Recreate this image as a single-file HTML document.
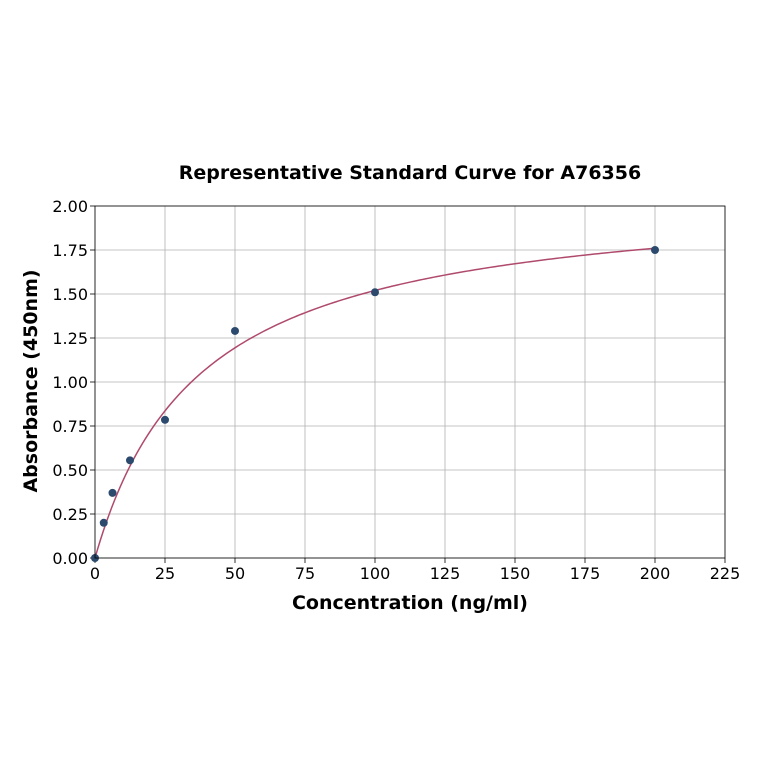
<!DOCTYPE html>
<html><head><meta charset="utf-8"><style>
html,body{margin:0;padding:0;background:#fff;}
svg{display:block;font-family:"DejaVu Sans","Liberation Sans",sans-serif;}
</style></head><body>
<svg id="chart" width="764" height="764"></svg>
<script>
const xTicks=[0,25,50,75,100,125,150,175,200,225];
const yTicks=[0,0.25,0.5,0.75,1.0,1.25,1.5,1.75,2.0];
const concentrations=[0,3.125,6.25,12.5,25,50,100,200];
const absorbances=[0,0.2,0.37,0.555,0.785,1.29,1.51,1.75];
const fitVmax=2.09;
const fitK=37.5;

const L=95,R=725,T=206,B=558;
const sx=v=>L+(v-0)/(225-0)*(R-L);
const sy=v=>B-(v-0)/(2-0)*(B-T);
const NS="http://www.w3.org/2000/svg";
const svg=document.getElementById('chart');
function mk(tag,attrs,parent){const e=document.createElementNS(NS,tag);for(const k in attrs)e.setAttribute(k,attrs[k]);(parent||svg).appendChild(e);return e;}

const grid=mk('g',{});


xTicks.forEach(t=>{mk('line',{x1:sx(t),x2:sx(t),y1:T,y2:B,stroke:'#b0b0b0','stroke-width':0.8},grid);});
yTicks.forEach(t=>{mk('line',{x1:L,x2:R,y1:sy(t),y2:sy(t),stroke:'#b0b0b0','stroke-width':0.8},grid);});

const xa=mk('g',{});


xTicks.forEach(t=>{
  mk('line',{x1:sx(t),x2:sx(t),y1:B,y2:B+5,stroke:'#000','stroke-width':0.8},xa);
  const tx=mk('text',{x:sx(t),y:B+21,'text-anchor':'middle','font-size':16},xa);tx.textContent=t;
  
  
});
const ya=mk('g',{});


yTicks.forEach(t=>{
  mk('line',{x1:L-5,x2:L,y1:sy(t),y2:sy(t),stroke:'#000','stroke-width':0.8},ya);
  const tx=mk('text',{x:L-7,y:sy(t)+6,'text-anchor':'end','font-size':16},ya);tx.textContent=t.toFixed(2);
  
  
});

let d='';
for(let i=0;i<=200;i++){const x=i;const y=fitVmax*x/(fitK+x);d+=(i?'L':'M')+sx(x).toFixed(2)+','+sy(y).toFixed(2);}
const curve=mk('path',{d:d,fill:'none',stroke:'#b04a6c','stroke-width':1.5});



concentrations.forEach((c,i)=>{
  const p=mk('circle',{cx:sx(c),cy:sy(absorbances[i]),r:4,fill:'#2c4a6e'});
  
  
});

const frame=mk('rect',{x:L,y:T,width:R-L,height:B-T,fill:'none',stroke:'#000','stroke-width':0.8});



const title=mk('text',{x:410,y:179,'text-anchor':'middle','font-size':19,'font-weight':'bold'});
title.textContent='Representative Standard Curve for A76356';


const xt=mk('text',{x:410,y:609,'text-anchor':'middle','font-size':19,'font-weight':'bold'});
xt.textContent='Concentration (ng/ml)';


const yt=mk('text',{x:0,y:0,'text-anchor':'middle','font-size':19,'font-weight':'bold',transform:'translate(37,381) rotate(-90)'});
yt.textContent='Absorbance (450nm)';


</script>
</body></html>
